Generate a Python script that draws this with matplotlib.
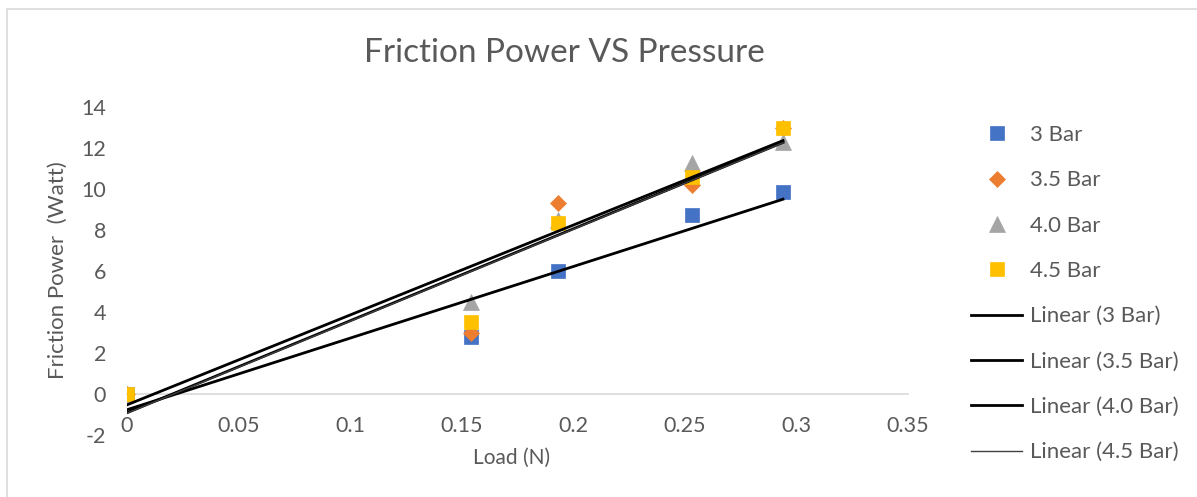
import numpy as np
import matplotlib
matplotlib.use("Agg")
import matplotlib.pyplot as plt
from matplotlib.patches import Rectangle

plt.rcParams['font.family'] = ['Lato', 'DejaVu Sans']
plt.rcParams['axes.unicode_minus'] = False

load = [0, 0.154, 0.193, 0.253, 0.294]
p3_0 = [0, 2.78, 6.01, 8.73, 9.87]
p3_5 = [0, 3.0, 9.33, 10.2, 13.0]
p4_0 = [0, 4.5, 8.5, 11.25, 12.3]
p4_5 = [0, 3.5, 8.36, 10.57, 13.0]

series_names = ["3 Bar", "3.5 Bar", "4.0 Bar", "4.5 Bar"]
series_vals = [p3_0, p3_5, p4_0, p4_5]
colors = ["#4472C4", "#ED7D31", "#A5A5A5", "#FFC000"]
markers = ["s", "D", "^", "s"]
msizes = [10.5, 8.0, 11.5, 10.5]
trend_lw = [2.0, 2.0, 2.0, 1.0]
trend_col = ["#000000", "#000000", "#000000", "#404040"]

xticks = [0, 0.05, 0.1, 0.15, 0.2, 0.25, 0.3, 0.35]
xticklabels = ["0", "0.05", "0.1", "0.15", "0.2", "0.25", "0.3", "0.35"]
yticks = [-2, 0, 2, 4, 6, 8, 10, 12, 14]

W, H = 1197, 497
fig = plt.figure(figsize=(W / 100, H / 100), dpi=100)
fig.patches.append(Rectangle((7 / W, -0.05), 1.2, (H - 9) / H + 0.05,
                             transform=fig.transFigure, fill=False,
                             edgecolor="#d9d9d9", linewidth=1.2))
ax = fig.add_axes([127 / W, (H - 435) / H, (908 - 127) / W, (435 - 107) / H])

grey = "#595959"
x = np.array(load)
scat_handles = []
for name, vals, c, m, ms in zip(series_names, series_vals, colors, markers, msizes):
    h, = ax.plot(load, vals, linestyle="none", marker=m, markersize=ms,
                 color=c, markeredgecolor=c, markeredgewidth=0.5,
                 label=name, zorder=3)
    scat_handles.append(h)

line_handles = []
for name, vals, lw, lc in zip(series_names, series_vals, trend_lw, trend_col):
    k, b = np.polyfit(x, np.array(vals), 1)
    xx = np.array([x.min(), x.max()])
    h, = ax.plot(xx, k * xx + b, color=lc, linewidth=lw,
                 label="Linear (%s)" % name, zorder=4)
    line_handles.append(h)

ax.set_xlim(0, 0.35)
ax.set_ylim(-2, 14)
ax.set_xticks(xticks)
ax.set_xticklabels(xticklabels)
ax.set_yticks(yticks)
for s in ["top", "right", "left"]:
    ax.spines[s].set_visible(False)
ax.spines["bottom"].set_position(("data", 0))
ax.spines["bottom"].set_color("#d9d9d9")
ax.spines["bottom"].set_linewidth(1.2)
ax.spines["bottom"].set_zorder(1)
ax.tick_params(axis="both", length=0, colors=grey, labelsize=15.5)
ax.tick_params(axis="x", pad=16)
ax.tick_params(axis="y", pad=15)
ax.patch.set_alpha(0)

fig.text(564 / W, 1 - 53 / H, "Friction Power VS Pressure", ha="center",
         va="center", fontsize=24, color=grey)
fig.text(512 / W, 1 - 458 / H, "Load (N)", ha="center", va="center",
         fontsize=15, color=grey)
fig.text(58 / W, 1 - 270 / H, "Friction Power  (Watt)", ha="center",
         va="center", rotation=90, fontsize=16, color=grey)

leg = fig.legend(handles=scat_handles + line_handles,
                 loc="upper left", bbox_to_anchor=(971 / W, 1 - 125 / H),
                 frameon=False, fontsize=16, labelcolor=grey,
                 handlelength=2.3, handletextpad=0.35, labelspacing=1.14,
                 borderaxespad=0, borderpad=0)

fig.savefig("out.png", dpi=100)
